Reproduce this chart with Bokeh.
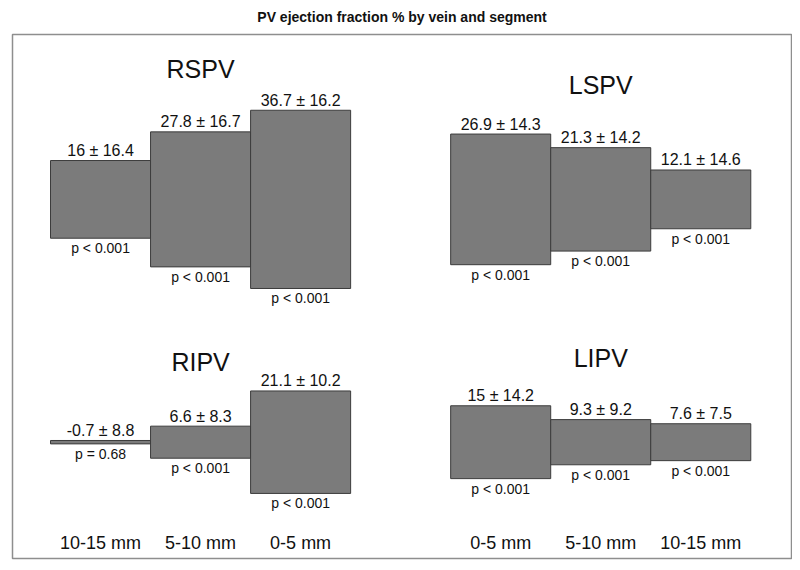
from bokeh.plotting import figure
from bokeh.models import ColumnDataSource, Range1d
from bokeh.core.properties import value
from bokeh.embed import file_html
from bokeh.resources import INLINE

# ---------------- data ----------------
veins = ["RSPV", "LSPV", "RIPV", "LIPV"]
segments_left = ["10-15 mm", "5-10 mm", "0-5 mm"]
segments_right = ["0-5 mm", "5-10 mm", "10-15 mm"]

rspv_mean = [16.0, 27.8, 36.7]
rspv_sd = [16.4, 16.7, 16.2]
rspv_p = ["p < 0.001", "p < 0.001", "p < 0.001"]

ripv_mean = [-0.7, 6.6, 21.1]
ripv_sd = [8.8, 8.3, 10.2]
ripv_p = ["p = 0.68", "p < 0.001", "p < 0.001"]

lspv_mean = [26.9, 21.3, 12.1]
lspv_sd = [14.3, 14.2, 14.6]
lspv_p = ["p < 0.001", "p < 0.001", "p < 0.001"]

lipv_mean = [15.0, 9.3, 7.6]
lipv_sd = [14.2, 9.2, 7.5]
lipv_p = ["p < 0.001", "p < 0.001", "p < 0.001"]

# ---------------- layout (positions) ----------------
left_x = [0, 1, 2]
right_x = [4, 5, 6]
upper_c = 50.0   # centre line of upper row
lower_c = 0.0    # centre line of lower row

FONT = "Liberation Sans"
BAR_FILL = "#7b7b7b"
BAR_LINE = "#3c3c3c"


def fmt(v):
    s = ("%.1f" % v)
    if s.endswith(".0"):
        s = s[:-2]
    return s


def group(xs, means, sds, ps, centre):
    h = [abs(m) for m in means]
    return dict(
        left=[x - 0.5 for x in xs],
        right=[x + 0.5 for x in xs],
        bottom=[centre - v / 2 for v in h],
        top=[centre + v / 2 for v in h],
        x=list(xs),
        lab=["%s \u00b1 %s" % (fmt(m), fmt(s)) for m, s in zip(means, sds)],
        p=list(ps),
    )


groups = [
    group(left_x, rspv_mean, rspv_sd, rspv_p, upper_c),
    group(right_x, lspv_mean, lspv_sd, lspv_p, upper_c),
    group(left_x, ripv_mean, ripv_sd, ripv_p, lower_c),
    group(right_x, lipv_mean, lipv_sd, lipv_p, lower_c),
]
data = {k: sum((g[k] for g in groups), []) for k in groups[0]}
src = ColumnDataSource(data)

p = figure(width=792, height=562, output_backend="svg", toolbar_location=None,
           x_range=Range1d(-0.88, 6.907), y_range=Range1d(-23.95, 83.95),
           min_border_left=12, min_border_right=1, min_border_top=33,
           min_border_bottom=4,
           title="PV ejection fraction % by vein and segment")
p.title.align = "center"
p.title.text_font = FONT
p.title.text_font_size = "14px"
p.title.text_font_style = "bold"
p.title.text_color = "#111111"
p.title.standoff = 16
p.title.vertical_align = "top"
p.axis.visible = False
p.grid.visible = False
p.outline_line_color = "#8e8e8e"
p.outline_line_width = 1.5
p.background_fill_color = "white"
p.border_fill_color = "white"

p.quad(left="left", right="right", bottom="bottom", top="top", source=src,
       fill_color=BAR_FILL, line_color=BAR_LINE, line_width=1)

p.text(x="x", y="top", text="lab", source=src, text_align="center",
       text_baseline="middle", y_offset=-10, text_font=value(FONT),
       text_font_size="16px", text_color="#111111")
p.text(x="x", y="bottom", text="p", source=src, text_align="center",
       text_baseline="middle", y_offset=10, text_font=value(FONT),
       text_font_size="14px", text_color="#111111")

# vein titles
vein_x = [1, 5, 1, 5]
vein_y = [76.85, 73.6, 16.5, 17.3]
p.text(x=vein_x, y=vein_y, text=veins, text_align="center",
       text_baseline="middle", text_font=value(FONT), text_font_size="25px",
       text_color="#111111")

# segment labels along the bottom
seg_y = -20.66
p.text(x=left_x + right_x, y=[seg_y] * 6, text=segments_left + segments_right,
       text_align="center", text_baseline="middle", text_font=value(FONT),
       text_font_size="18px", text_color="#111111")

open("out.html", "w").write(file_html(p, INLINE))
